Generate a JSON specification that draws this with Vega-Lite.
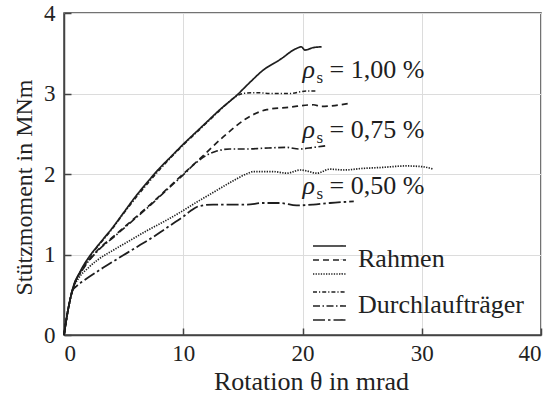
{
  "$schema": "https://vega.github.io/schema/vega-lite/v6.json",
  "width": 477,
  "height": 322,
  "autosize": {"type": "none"},
  "padding": {"left": 64, "top": 13, "right": 16, "bottom": 59},
  "background": "white",
  "config": {
    "font": "Liberation Serif, Times New Roman, serif",
    "view": {"stroke": "#444", "strokeWidth": 1.5},
    "axis": {
      "domainColor": "#444",
      "domainWidth": 1.5,
      "gridColor": "#dcdcdc",
      "gridWidth": 1,
      "tickColor": "#444",
      "tickWidth": 1.5,
      "tickSize": -7,
      "labelFont": "Liberation Serif, Times New Roman, serif",
      "labelFontSize": 23,
      "labelColor": "#222",
      "titleFont": "Liberation Serif, Times New Roman, serif",
      "titleFontWeight": "normal",
      "titleColor": "#222"
    },
    "legend": {
      "orient": "none",
      "padding": 0,
      "labelFontSize": 1,
      "labelExpr": "''",
      "labelOffset": 5,
      "symbolType": "M-3.3,0H3.3",
      "symbolSize": 100,
      "symbolOffset": 10.5,
      "symbolStrokeColor": "#222",
      "symbolStrokeWidth": 1.5,
      "rowPadding": 5,
      "titleOrient": "right",
      "titleAnchor": "middle",
      "titleBaseline": "middle",
      "titlePadding": 9,
      "titleFont": "Liberation Serif, Times New Roman, serif",
      "titleFontSize": 26,
      "titleFontWeight": "normal",
      "titleColor": "#222"
    }
  },
  "datasets": {
    "curves": [
      {"series": "R100", "theta": 0, "moment": 0},
      {"series": "R100", "theta": 0.3, "moment": 0.28},
      {"series": "R100", "theta": 0.7, "moment": 0.56},
      {"series": "R100", "theta": 1.4, "moment": 0.8},
      {"series": "R100", "theta": 2.2, "moment": 0.99},
      {"series": "R100", "theta": 3.0, "moment": 1.14},
      {"series": "R100", "theta": 4.0, "moment": 1.32},
      {"series": "R100", "theta": 5.0, "moment": 1.52},
      {"series": "R100", "theta": 6.0, "moment": 1.72},
      {"series": "R100", "theta": 7.0, "moment": 1.9},
      {"series": "R100", "theta": 8.0, "moment": 2.07},
      {"series": "R100", "theta": 9.0, "moment": 2.22},
      {"series": "R100", "theta": 10.0, "moment": 2.37},
      {"series": "R100", "theta": 11.0, "moment": 2.51},
      {"series": "R100", "theta": 12.0, "moment": 2.65},
      {"series": "R100", "theta": 13.0, "moment": 2.79},
      {"series": "R100", "theta": 14.5, "moment": 2.98},
      {"series": "R100", "theta": 15.6, "moment": 3.14},
      {"series": "R100", "theta": 16.7, "moment": 3.29},
      {"series": "R100", "theta": 18.1, "moment": 3.42},
      {"series": "R100", "theta": 19.5, "moment": 3.56},
      {"series": "R100", "theta": 19.9, "moment": 3.58},
      {"series": "R100", "theta": 20.2, "moment": 3.54},
      {"series": "R100", "theta": 20.9, "moment": 3.57},
      {"series": "R100", "theta": 21.6, "moment": 3.58},

      {"series": "R075", "theta": 0, "moment": 0},
      {"series": "R075", "theta": 0.3, "moment": 0.28},
      {"series": "R075", "theta": 0.7, "moment": 0.55},
      {"series": "R075", "theta": 1.7, "moment": 0.85},
      {"series": "R075", "theta": 2.8, "moment": 1.05},
      {"series": "R075", "theta": 4.2, "moment": 1.23},
      {"series": "R075", "theta": 5.6, "moment": 1.41},
      {"series": "R075", "theta": 7.3, "moment": 1.63},
      {"series": "R075", "theta": 8.9, "moment": 1.85},
      {"series": "R075", "theta": 10.0, "moment": 2.0},
      {"series": "R075", "theta": 11.4, "moment": 2.19},
      {"series": "R075", "theta": 13.35, "moment": 2.46},
      {"series": "R075", "theta": 15.3, "moment": 2.69},
      {"series": "R075", "theta": 17.0, "moment": 2.8},
      {"series": "R075", "theta": 18.9, "moment": 2.83},
      {"series": "R075", "theta": 20.9, "moment": 2.86},
      {"series": "R075", "theta": 21.6, "moment": 2.84},
      {"series": "R075", "theta": 24.0, "moment": 2.88},

      {"series": "R050", "theta": 0, "moment": 0},
      {"series": "R050", "theta": 0.3, "moment": 0.28},
      {"series": "R050", "theta": 0.7, "moment": 0.55},
      {"series": "R050", "theta": 1.2, "moment": 0.7},
      {"series": "R050", "theta": 2.0, "moment": 0.83},
      {"series": "R050", "theta": 2.8, "moment": 0.93},
      {"series": "R050", "theta": 4.2, "moment": 1.06},
      {"series": "R050", "theta": 5.6, "moment": 1.18},
      {"series": "R050", "theta": 7.0, "moment": 1.3},
      {"series": "R050", "theta": 8.4, "moment": 1.41},
      {"series": "R050", "theta": 9.7, "moment": 1.52},
      {"series": "R050", "theta": 10.9, "moment": 1.63},
      {"series": "R050", "theta": 12.5, "moment": 1.77},
      {"series": "R050", "theta": 14.0, "moment": 1.9},
      {"series": "R050", "theta": 15.3, "moment": 2.0},
      {"series": "R050", "theta": 15.9, "moment": 2.03},
      {"series": "R050", "theta": 17.5, "moment": 2.03},
      {"series": "R050", "theta": 18.7, "moment": 2.01},
      {"series": "R050", "theta": 19.8, "moment": 2.05},
      {"series": "R050", "theta": 20.3, "moment": 2.04},
      {"series": "R050", "theta": 21.2, "moment": 2.01},
      {"series": "R050", "theta": 22.3, "moment": 2.06},
      {"series": "R050", "theta": 23.5, "moment": 2.05},
      {"series": "R050", "theta": 25.1, "moment": 2.07},
      {"series": "R050", "theta": 26.5, "moment": 2.08},
      {"series": "R050", "theta": 28.7, "moment": 2.1},
      {"series": "R050", "theta": 30.1, "moment": 2.09},
      {"series": "R050", "theta": 31.0, "moment": 2.06},

      {"series": "D100", "theta": 0, "moment": 0},
      {"series": "D100", "theta": 0.3, "moment": 0.28},
      {"series": "D100", "theta": 0.7, "moment": 0.55},
      {"series": "D100", "theta": 1.4, "moment": 0.79},
      {"series": "D100", "theta": 2.2, "moment": 0.98},
      {"series": "D100", "theta": 3.0, "moment": 1.13},
      {"series": "D100", "theta": 4.0, "moment": 1.31},
      {"series": "D100", "theta": 5.0, "moment": 1.51},
      {"series": "D100", "theta": 6.0, "moment": 1.7},
      {"series": "D100", "theta": 7.0, "moment": 1.88},
      {"series": "D100", "theta": 8.0, "moment": 2.05},
      {"series": "D100", "theta": 9.0, "moment": 2.21},
      {"series": "D100", "theta": 10.0, "moment": 2.36},
      {"series": "D100", "theta": 11.5, "moment": 2.57},
      {"series": "D100", "theta": 13.0, "moment": 2.78},
      {"series": "D100", "theta": 14.3, "moment": 2.95},
      {"series": "D100", "theta": 15.0, "moment": 3.0},
      {"series": "D100", "theta": 16.1, "moment": 3.01},
      {"series": "D100", "theta": 17.5, "moment": 3.0},
      {"series": "D100", "theta": 18.9, "moment": 3.0},
      {"series": "D100", "theta": 20.3, "moment": 3.03},
      {"series": "D100", "theta": 21.2, "moment": 3.03},

      {"series": "D075", "theta": 0, "moment": 0},
      {"series": "D075", "theta": 0.3, "moment": 0.28},
      {"series": "D075", "theta": 0.7, "moment": 0.55},
      {"series": "D075", "theta": 1.7, "moment": 0.84},
      {"series": "D075", "theta": 2.8, "moment": 1.04},
      {"series": "D075", "theta": 4.2, "moment": 1.22},
      {"series": "D075", "theta": 5.6, "moment": 1.4},
      {"series": "D075", "theta": 7.3, "moment": 1.62},
      {"series": "D075", "theta": 8.9, "moment": 1.84},
      {"series": "D075", "theta": 10.0, "moment": 1.99},
      {"series": "D075", "theta": 11.0, "moment": 2.13},
      {"series": "D075", "theta": 11.8, "moment": 2.22},
      {"series": "D075", "theta": 12.7, "moment": 2.28},
      {"series": "D075", "theta": 13.9, "moment": 2.31},
      {"series": "D075", "theta": 15.3, "moment": 2.31},
      {"series": "D075", "theta": 16.7, "moment": 2.32},
      {"series": "D075", "theta": 18.7, "moment": 2.33},
      {"series": "D075", "theta": 19.7, "moment": 2.31},
      {"series": "D075", "theta": 20.9, "moment": 2.33},
      {"series": "D075", "theta": 21.9, "moment": 2.35},

      {"series": "D050", "theta": 0, "moment": 0},
      {"series": "D050", "theta": 0.3, "moment": 0.28},
      {"series": "D050", "theta": 0.7, "moment": 0.55},
      {"series": "D050", "theta": 1.0, "moment": 0.6},
      {"series": "D050", "theta": 1.7, "moment": 0.68},
      {"series": "D050", "theta": 2.8, "moment": 0.79},
      {"series": "D050", "theta": 4.2, "moment": 0.92},
      {"series": "D050", "theta": 5.3, "moment": 1.02},
      {"series": "D050", "theta": 6.4, "moment": 1.12},
      {"series": "D050", "theta": 7.5, "moment": 1.22},
      {"series": "D050", "theta": 8.4, "moment": 1.31},
      {"series": "D050", "theta": 9.3, "moment": 1.4},
      {"series": "D050", "theta": 10.0, "moment": 1.47},
      {"series": "D050", "theta": 10.6, "moment": 1.54},
      {"series": "D050", "theta": 11.3, "moment": 1.6},
      {"series": "D050", "theta": 12.5, "moment": 1.62},
      {"series": "D050", "theta": 14.0, "moment": 1.62},
      {"series": "D050", "theta": 15.3, "moment": 1.62},
      {"series": "D050", "theta": 16.7, "moment": 1.64},
      {"series": "D050", "theta": 18.1, "moment": 1.64},
      {"series": "D050", "theta": 19.5, "moment": 1.61},
      {"series": "D050", "theta": 20.9, "moment": 1.62},
      {"series": "D050", "theta": 22.3, "moment": 1.64},
      {"series": "D050", "theta": 24.3, "moment": 1.66}
    ],
    "labels": [
      {"theta": 20.0, "moment": 3.19, "value": "= 1,00 %"},
      {"theta": 20.0, "moment": 2.45, "value": "= 0,75 %"},
      {"theta": 20.0, "moment": 1.75, "value": "= 0,50 %"}
    ]
  },
  "encoding": {
    "x": {
      "field": "theta",
      "type": "quantitative",
      "scale": {"domain": [0, 40], "nice": false},
      "axis": {
        "values": [0, 10, 20, 30, 40],
        "title": "Rotation θ in mrad",
        "titleFontSize": 26,
        "labelPadding": 14,
        "titlePadding": 3,
        "titleX": 247
      }
    },
    "y": {
      "field": "moment",
      "type": "quantitative",
      "scale": {"domain": [0, 4], "nice": false},
      "axis": {
        "values": [0, 1, 2, 3, 4],
        "title": "Stützmoment in MNm",
        "titleFontSize": 24,
        "labelPadding": 16,
        "titlePadding": 7,
        "titleY": 174
      }
    }
  },
  "layer": [
    {
      "data": {"name": "curves"},
      "transform": [{"filter": "indexof(['R100','R075','R050'], datum.series) >= 0"}],
      "mark": {"type": "line", "color": "#1e1e1e", "strokeWidth": 1.7, "interpolate": "monotone"},
      "encoding": {
        "detail": {"field": "series"},
        "strokeDash": {
          "field": "series",
          "type": "nominal",
          "scale": {"domain": ["R100", "R075", "R050"], "range": [[1, 0], [6, 4], [1.3, 1.3]]},
          "legend": {"title": "Rahmen", "legendX": 249, "legendY": 227}
        }
      }
    },
    {
      "data": {"name": "curves"},
      "transform": [{"filter": "indexof(['D100','D075','D050'], datum.series) >= 0"}],
      "mark": {"type": "line", "color": "#1e1e1e", "interpolate": "monotone"},
      "encoding": {
        "detail": {"field": "series"},
        "strokeWidth": {
          "field": "series",
          "type": "ordinal",
          "scale": {"domain": ["D100", "D075", "D050"], "range": [1.5, 1.8, 2.2]},
          "legend": null
        },
        "strokeDash": {
          "field": "series",
          "type": "nominal",
          "scale": {"domain": ["D100", "D075", "D050"], "range": [[4, 2, 1.2, 2], [7, 2.5, 1.5, 2.5], [12, 3, 2.5, 3]]},
          "legend": {"title": "Durchlaufträger", "legendX": 249, "legendY": 273}
        }
      }
    },
    {
      "data": {"name": "labels"},
      "mark": {"type": "text", "align": "left", "baseline": "alphabetic", "font": "Liberation Serif, Times New Roman, serif", "fontSize": 26, "fontStyle": "italic", "color": "#1e1e1e", "text": "ρ"}
    },
    {
      "data": {"name": "labels"},
      "mark": {"type": "text", "align": "left", "baseline": "alphabetic", "font": "Liberation Serif, Times New Roman, serif", "fontSize": 17, "dx": 14, "dy": 5, "color": "#1e1e1e", "text": "s"}
    },
    {
      "data": {"name": "labels"},
      "mark": {"type": "text", "align": "left", "baseline": "alphabetic", "font": "Liberation Serif, Times New Roman, serif", "fontSize": 26, "dx": 27, "color": "#1e1e1e"},
      "encoding": {"text": {"field": "value"}}
    }
  ],
  "resolve": {"scale": {"strokeDash": "independent"}, "legend": {"strokeDash": "independent"}}
}
